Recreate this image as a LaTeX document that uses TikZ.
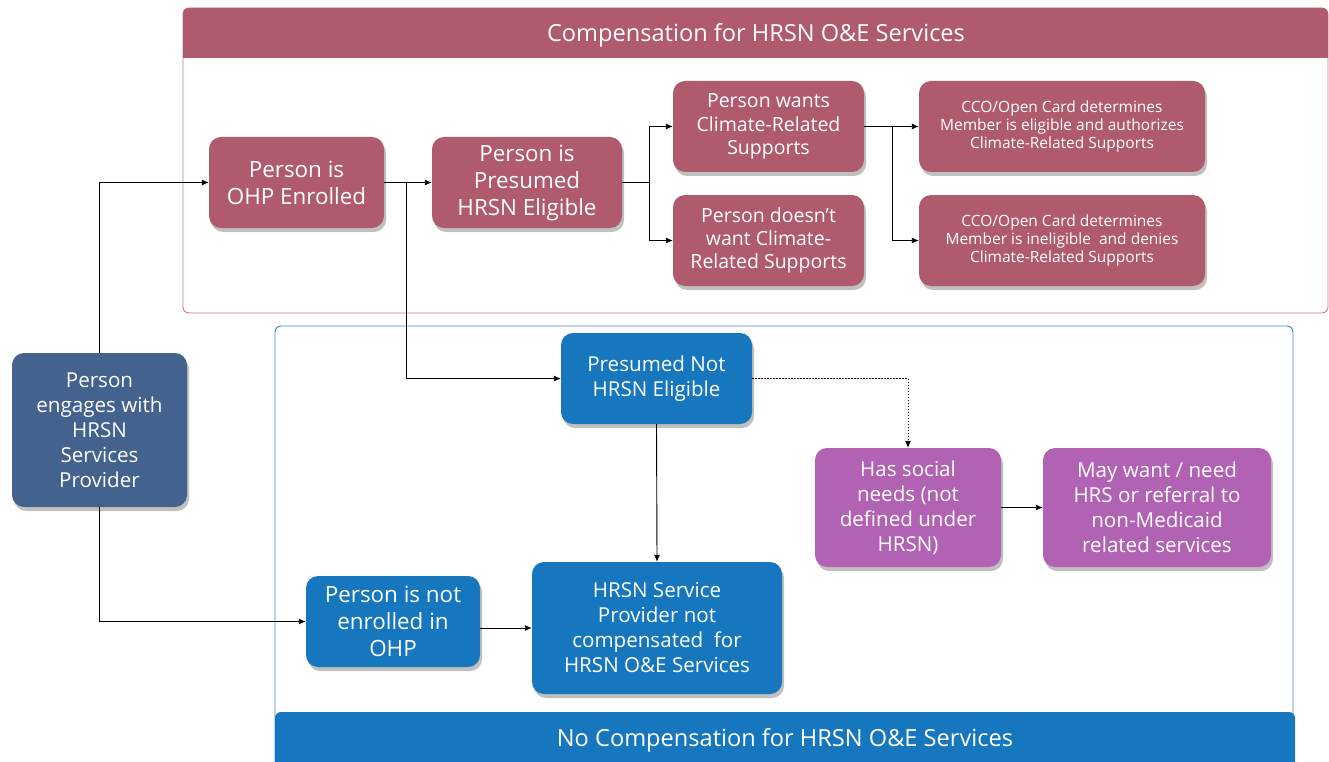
\documentclass[tikz,border=0pt]{standalone}
\usepackage{fontspec}
\setmainfont{Open Sans}
\usetikzlibrary{arrows.meta,shadows}
\definecolor{rose}{HTML}{B05A6E}
\definecolor{roseline}{HTML}{C77A8C}
\definecolor{navy}{HTML}{44628E}
\definecolor{ohpblue}{HTML}{1677BE}
\definecolor{blueline}{HTML}{4A80D6}
\definecolor{plum}{HTML}{B162B3}
\tikzset{
  boxbase/.style={rounded corners=12pt, text=white, align=center, inner sep=2pt,
    font=\fontsize{20.6}{25}\selectfont,
    drop shadow={shadow xshift=2pt, shadow yshift=-4pt, opacity=0.35, fill=black!70}},
  bigtext/.style={font=\fontsize{22.4}{27}\selectfont},
  midtext/.style={font=\fontsize{19.5}{23.3}\selectfont},
  rosebox/.style={boxbase, fill=rose},
  ccobox/.style={rosebox, font=\fontsize{15.5}{18.3}\selectfont},
  navybox/.style={boxbase, fill=navy},
  bluebox/.style={boxbase, fill=ohpblue},
  plumbox/.style={boxbase, fill=plum},
  arr/.style={draw=black, line width=0.9pt, -{Latex[length=7pt,width=6pt]}},
  dotarr/.style={arr, dash pattern=on 1.5pt off 1.5pt},
  bandtext/.style={text=white, font=\fontsize{23.6}{27}\selectfont}
}
\begin{document}
\begin{tikzpicture}[x=1pt,y=-1pt]
\useasboundingbox (0,0) rectangle (1329,762);
\fill[white] (0,0) rectangle (1329,762);
% top container
\draw[roseline, line width=0.9pt, rounded corners=6pt] (183,8) rectangle (1328,313);
\fill[rose] (183,58) [rounded corners=6pt] -- (183,8) -- (1328,8) [sharp corners] -- (1328,58) -- cycle;
\node[bandtext] (comptitle) at (756,35) {Compensation for HRSN O\&E Services};
% bottom container
\draw[blueline, line width=0.9pt, rounded corners=6pt] (275,326) rectangle (1293,775);
\fill[ohpblue] (275,775) [rounded corners=6pt] -- (275,712) -- (1295,712) [sharp corners] -- (1295,775) -- cycle;
\node[bandtext] (nocomp) at (785,740.5) {No Compensation for HRSN O\&E Services};

% nodes
\node[rosebox, bigtext, minimum width=175pt, minimum height=91pt] (ohp) at (296.5,182.5) {Person is\\OHP Enrolled};
\node[rosebox, bigtext, minimum width=190pt, minimum height=91pt] (pres) at (527,182.5) {Person is\\Presumed\\HRSN Eligible};
\node[rosebox, midtext, minimum width=191pt, minimum height=91pt] (wants) at (768.5,126.5) {Person wants\\Climate-Related\\Supports};
\node[rosebox, midtext, minimum width=191pt, minimum height=91pt] (dont) at (768.5,240.5) {Person doesn’t\\want Climate-\\Related Supports};
\node[ccobox, minimum width=286pt, minimum height=91pt] (cco1) at (1062,126.5) {CCO/Open Card determines\\Member is eligible and authorizes\\Climate-Related Supports};
\node[ccobox, minimum width=286pt, minimum height=91pt] (cco2) at (1062,240.5) {CCO/Open Card determines\\Member is ineligible\ \ and denies\\Climate-Related Supports};
\node[navybox, minimum width=175pt, minimum height=154pt] (engage) at (99.5,430) {Person\\engages with\\HRSN\\Services\\Provider};
\node[bluebox, minimum width=191pt, minimum height=91pt] (presnot) at (656.5,378.5) {Presumed Not\\HRSN Eligible};
\node[bluebox, minimum width=250pt, minimum height=132pt] (hrsnsp) at (657,628) {HRSN Service\\Provider not\\compensated\ \ for\\HRSN O\&E Services};
\node[bluebox, bigtext, minimum width=174pt, minimum height=91pt] (notenr) at (393,621.5) {Person is not\\enrolled in\\OHP};
\node[plumbox, minimum width=186pt, minimum height=119pt] (social) at (908,507.5) {Has social\\needs (not\\defined under\\HRSN)};
\node[plumbox, minimum width=228pt, minimum height=119pt] (maywant) at (1157,507.5) {May want / need\\HRS or referral to\\non-Medicaid\\related services};

% connectors
\coordinate (b1) at (406,182.5);
\coordinate (b2) at (649,182.5);
\coordinate (b3) at (892,126.5);
\draw[arr] (engage.north) |- (ohp.west);
\draw[arr] (engage.south) |- (notenr.west);
\draw[arr] (ohp.east) -- (pres.west);
\draw[arr] (b1) |- (presnot.west);
\draw[arr] (pres.east) -- (b2) |- (wants.west);
\draw[arr] (b2) |- (dont.west);
\draw[arr] (wants.east) -- (cco1.west);
\draw[arr] (b3) |- (cco2.west);
\draw[arr] (presnot.south) -- (hrsnsp.north);
\draw[arr] (notenr.east |- hrsnsp.west) -- (hrsnsp.west);
\draw[dotarr] (presnot.east) -| (social.north);
\draw[arr] (social.east) -- (maywant.west);
\end{tikzpicture}
\end{document}
